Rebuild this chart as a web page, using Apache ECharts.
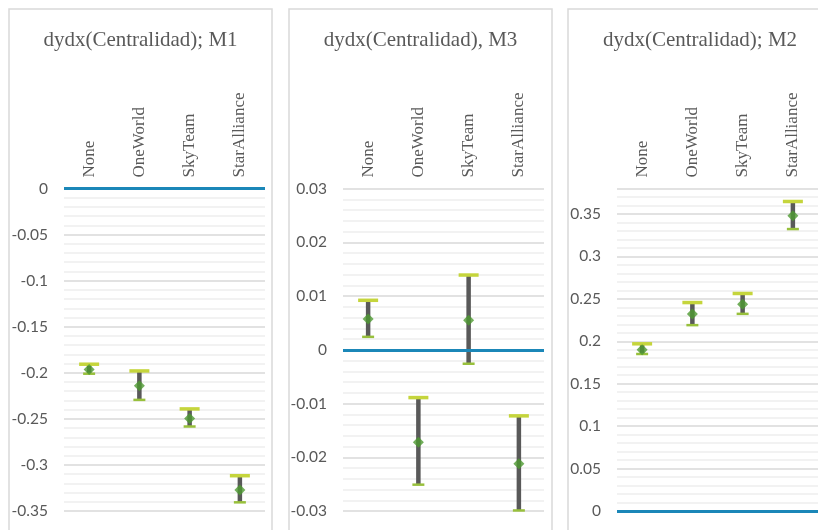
<!DOCTYPE html>
<html>
<head>
<meta charset="utf-8">
<script src="https://cdn.jsdelivr.net/npm/echarts@6/dist/echarts.min.js"></script>
<style>
html,body{margin:0;padding:0;background:#fff;}
#chart{width:818px;height:530px;}
</style>
</head>
<body>
<div id="chart"></div>
<script>
// ---- Data ----
const categories = ['None', 'OneWorld', 'SkyTeam', 'StarAlliance'];
const titles = ['dydx(Centralidad); M1', 'dydx(Centralidad), M3', 'dydx(Centralidad); M2'];

const m1Mid  = [-0.1965, -0.2142, -0.2496, -0.3272];
const m1High = [-0.1907, -0.1980, -0.2392, -0.3117];
const m1Low  = [-0.2010, -0.2294, -0.2583, -0.3406];

const m3Mid  = [0.0057, -0.0172, 0.0055, -0.0212];
const m3High = [0.0092, -0.0089, 0.0139, -0.0123];
const m3Low  = [0.0024, -0.0251, -0.0026, -0.0299];

const m2Mid  = [0.1899, 0.2320, 0.2437, 0.3479];
const m2High = [0.1970, 0.2456, 0.2563, 0.3647];
const m2Low  = [0.1850, 0.2190, 0.2323, 0.3322];

const yMin = [-0.35, -0.03, 0];
const yMax = [0, 0.03, 0.38];
const yInterval = [0.05, 0.01, 0.05];

// ---- Layout ----
const panels = [
  {left: 9, right: 272, plotL: 64, plotR: 265},
  {left: 289, right: 552, plotL: 343, plotR: 544},
  {left: 568, right: 832, plotL: 617, plotR: 818}
];
const plotTop = 188.5, plotBottom = 511;
const mids = [m1Mid, m3Mid, m2Mid];
const highs = [m1High, m3High, m2High];
const lows = [m1Low, m3Low, m2Low];

const chart = echarts.init(document.getElementById('chart'), null, {renderer: 'canvas'});

const grids = [], xAxes = [], yAxes = [], series = [], graphics = [];
panels.forEach((p, i) => {
  graphics.push({
    type: 'rect', silent: true, z: -10,
    shape: {x: p.left, y: 9, width: p.right - p.left, height: 540},
    style: {fill: '#fff', stroke: '#d9d9d9', lineWidth: 1.5}
  });
  graphics.push({
    type: 'text', silent: true,
    x: (p.left + p.right) / 2, y: 40,
    style: {text: titles[i], font: '21px "Liberation Serif", serif', fill: '#595959',
            align: 'center', verticalAlign: 'middle'}
  });
  grids.push({left: p.plotL, width: p.plotR - p.plotL, top: plotTop, height: plotBottom - plotTop, containLabel: false});
  xAxes.push({
    type: 'category', gridIndex: i, data: categories, position: 'top',
    axisLine: {show: false}, axisTick: {show: false}, splitLine: {show: false},
    axisLabel: {rotate: 90, margin: 11, interval: 0, color: '#595959',
                fontFamily: '"Liberation Serif", serif', fontSize: 17}
  });
  yAxes.push({
    type: 'value', gridIndex: i, min: yMin[i], max: yMax[i], interval: yInterval[i],
    axisLine: {show: false}, axisTick: {show: false},
    axisLabel: {color: '#595959', fontFamily: 'Lato, sans-serif', fontSize: 15.5, margin: 16,
                showMaxLabel: i !== 2,
                formatter: v => String(parseFloat(v.toFixed(4)))},
    splitLine: {show: true, lineStyle: {color: '#d9d9d9', width: 1.5}},
    minorTick: {show: false, splitNumber: 5},
    minorSplitLine: {show: true, lineStyle: {color: '#eeeeee', width: 1.5}}
  });
  const errData = categories.map((c, k) => [k, lows[i][k], highs[i][k]]);
  series.push({
    type: 'custom', xAxisIndex: i, yAxisIndex: i, z: 3,
    data: errData,
    encode: {x: 0, y: [1, 2]},
    renderItem: function (params, api) {
      const x = api.value(0);
      const lo = api.coord([x, api.value(1)]);
      const hi = api.coord([x, api.value(2)]);
      return {
        type: 'group',
        children: [
          {type: 'line', shape: {x1: lo[0], y1: lo[1], x2: hi[0], y2: hi[1]},
           style: {stroke: '#595959', lineWidth: 4.5}},
          {type: 'line', shape: {x1: hi[0] - 10, y1: hi[1], x2: hi[0] + 10, y2: hi[1]},
           style: {stroke: '#c5d53c', lineWidth: 3.5}},
          {type: 'line', shape: {x1: lo[0] - 6, y1: lo[1], x2: lo[0] + 6, y2: lo[1]},
           style: {stroke: '#98c03c', lineWidth: 2.5}}
        ]
      };
    }
  });
  series.push({
    type: 'scatter', xAxisIndex: i, yAxisIndex: i, z: 5,
    symbol: 'diamond', symbolSize: [11, 11],
    itemStyle: {color: '#4e9a31'},
    data: categories.map((c, k) => [k, mids[i][k]])
  });
  series.push({
    type: 'line', xAxisIndex: i, yAxisIndex: i, data: [], z: 4,
    markLine: {
      silent: true, symbol: ['none', 'none'], label: {show: false},
      lineStyle: {color: '#1b87b8', width: 3, type: 'solid'},
      data: [{yAxis: 0}]
    }
  });
});

chart.setOption({
  animation: false,
  backgroundColor: '#ffffff',
  graphic: graphics,
  grid: grids,
  xAxis: xAxes,
  yAxis: yAxes,
  series: series
});
</script>
</body>
</html>
